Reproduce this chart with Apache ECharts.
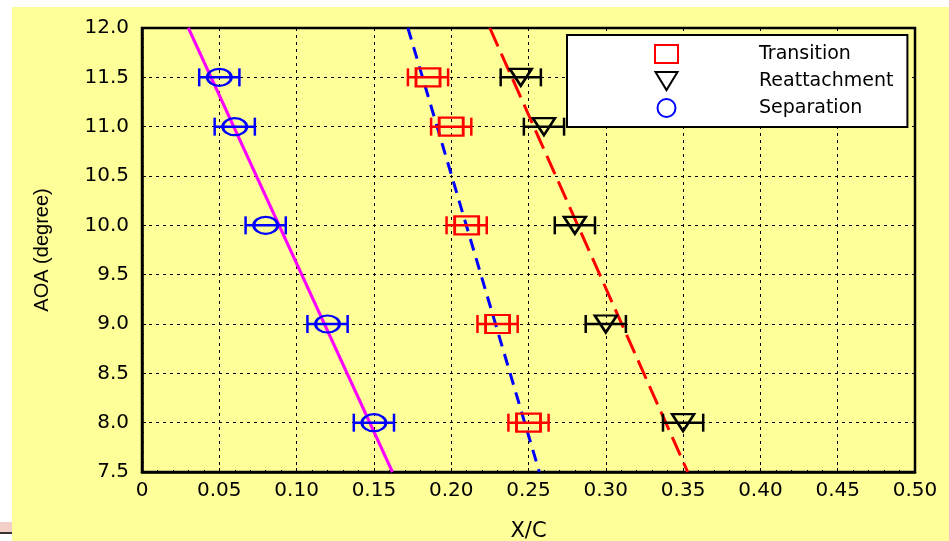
<!DOCTYPE html>
<html><head><meta charset="utf-8">
<script src="https://cdn.jsdelivr.net/npm/echarts@6/dist/echarts.min.js"></script>
<style>html,body{margin:0;padding:0;background:#fff}#c{width:949px;height:541px}</style>
</head><body><div id="c"></div>
<script>
const aoa = [8.0, 9.0, 10.0, 11.0, 11.5];
const separationX = [0.15, 0.12, 0.08, 0.06, 0.05];
const transitionX = [0.25, 0.23, 0.21, 0.20, 0.185];
const reattachX   = [0.35, 0.30, 0.28, 0.26, 0.245];
const errX = 0.013;
// linear fit lines: [x at AOA 12, x at AOA 7.5]
const sepFit = [[0.030, 12.0], [0.162, 7.5]];
const traFit = [[0.172, 12.0], [0.257, 7.5]];
const reaFit = [[0.225, 12.0], [0.353, 7.5]];
const legendNames = ['Transition', 'Reattachment', 'Separation'];
const xTicks = {min: 0, max: 0.5, interval: 0.05};
const yTicks = {min: 7.5, max: 12.0, interval: 0.5};

const FONT = 'DejaVu Sans, sans-serif';
const FONT2 = 'Liberation Sans, Arial, sans-serif';
function pts(xs) { return xs.map((x, i) => [x, aoa[i]]); }
function errData(xs) { return xs.map((x, i) => [x, aoa[i], errX]); }
function errSeries(xs, color) {
  return {
    type: 'custom', silent: true, z: 3,
    data: errData(xs),
    renderItem: function (params, api) {
      const x = api.value(0), y = api.value(1), e = api.value(2);
      const p1 = api.coord([x - e, y]), p2 = api.coord([x + e, y]);
      const h = 9;
      const st = {stroke: color, lineWidth: 2.5};
      return {type: 'group', children: [
        {type: 'line', shape: {x1: p1[0], y1: p1[1], x2: p2[0], y2: p2[1]}, style: st},
        {type: 'line', shape: {x1: p1[0], y1: p1[1] - h, x2: p1[0], y2: p1[1] + h}, style: st},
        {type: 'line', shape: {x1: p2[0], y1: p2[1] - h, x2: p2[0], y2: p2[1] + h}, style: st}
      ]};
    }
  };
}
const chart = echarts.init(document.getElementById('c'), null, {renderer: 'canvas'});
chart.setOption({
  backgroundColor: '#fff',
  animation: false,
  graphic: [
    {type: 'rect', z: -10, shape: {x: 12, y: 7, width: 937, height: 534}, style: {fill: '#FFFF99'}},
    {type: 'rect', z: -10, shape: {x: 0, y: 522, width: 12, height: 10}, style: {fill: '#F2D0C8'}},
    {type: 'rect', z: -10, shape: {x: 0, y: 532, width: 12, height: 2}, style: {fill: '#333'}}
  ],
  grid: {left: 142, right: 34, top: 28, bottom: 69, show: true, borderColor: '#000', borderWidth: 2.5,
    backgroundColor: 'transparent', outerBoundsMode: 'none', containLabel: false},
  legend: {
    orient: 'vertical', left: 567, top: 35,
    data: [
      {name: legendNames[0]},
      {name: legendNames[1], icon: 'path://M0,0L22,0L11,18Z'},
      {name: legendNames[2]}
    ],
    backgroundColor: '#fff', borderColor: '#000', borderWidth: 2,
    padding: [9, 14, 9, 87], itemGap: 7,
    itemWidth: 23, itemHeight: 18,
    textStyle: {fontFamily: FONT, fontSize: 19, color: '#000', padding: [0, 0, 0, 76]}
  },
  xAxis: {
    type: 'value', min: xTicks.min, max: xTicks.max, interval: xTicks.interval,
    name: 'X/C', nameLocation: 'middle', nameGap: 49,
    nameTextStyle: {fontFamily: FONT, fontSize: 21, color: '#000'},
    axisLine: {show: true, lineStyle: {color: '#000', width: 2.5}},
    axisTick: {show: true, inside: true, length: 4, lineStyle: {color: '#000'}},
    minorTick: {show: true, splitNumber: 5, length: 2, lineStyle: {color: '#000'}},
    axisLabel: {fontFamily: FONT, fontSize: 20, color: '#000', margin: 9,
      formatter: v => Math.abs(v) < 1e-9 ? '0' : v.toFixed(2)},
    splitLine: {show: true, lineStyle: {color: '#000', width: 1, type: [3, 4]}}
  },
  yAxis: {
    type: 'value', min: yTicks.min, max: yTicks.max, interval: yTicks.interval,
    name: 'AOA (degree)', nameLocation: 'middle', nameGap: 90, nameRotate: 90,
    nameTextStyle: {fontFamily: FONT2, fontSize: 20, color: '#000'},
    axisLine: {show: true, lineStyle: {color: '#000', width: 2.5}},
    axisTick: {show: true, inside: true, length: 4, lineStyle: {color: '#000'}},
    minorTick: {show: true, splitNumber: 5, length: 2, lineStyle: {color: '#000'}},
    axisLabel: {fontFamily: FONT, fontSize: 20, color: '#000', margin: 13,
      formatter: v => v.toFixed(1)},
    splitLine: {show: true, lineStyle: {color: '#000', width: 1, type: [3, 4]}}
  },
  series: [
    {type: 'line', data: sepFit, showSymbol: false, silent: true, z: 2,
      lineStyle: {color: '#FF00FF', width: 3}},
    {type: 'line', data: traFit, showSymbol: false, silent: true, z: 2,
      lineStyle: {color: '#0000FF', width: 3, type: [12, 8]}},
    {type: 'line', data: reaFit, showSymbol: false, silent: true, z: 2,
      lineStyle: {color: '#FF0000', width: 3, type: [20, 8]}},
    errSeries(transitionX, '#FF0000'),
    errSeries(reattachX, '#000000'),
    errSeries(separationX, '#0000FF'),
    {name: legendNames[0], type: 'scatter', z: 4, data: pts(transitionX),
      symbol: 'rect', symbolSize: [24, 18],
      itemStyle: {color: 'rgba(0,0,0,0)', borderColor: '#FF0000', borderWidth: 2.5, opacity: 1}},
    {name: legendNames[1], type: 'scatter', z: 4, data: pts(reattachX),
      symbol: 'triangle', symbolSize: [22, 17], symbolRotate: 180,
      itemStyle: {color: 'rgba(0,0,0,0)', borderColor: '#000000', borderWidth: 2.5, opacity: 1}},
    {name: legendNames[2], type: 'scatter', z: 4, data: pts(separationX),
      symbol: 'circle', symbolSize: [24, 17],
      itemStyle: {color: 'rgba(0,0,0,0)', borderColor: '#0000FF', borderWidth: 2.5, opacity: 1}}
  ]
});
</script></body></html>
